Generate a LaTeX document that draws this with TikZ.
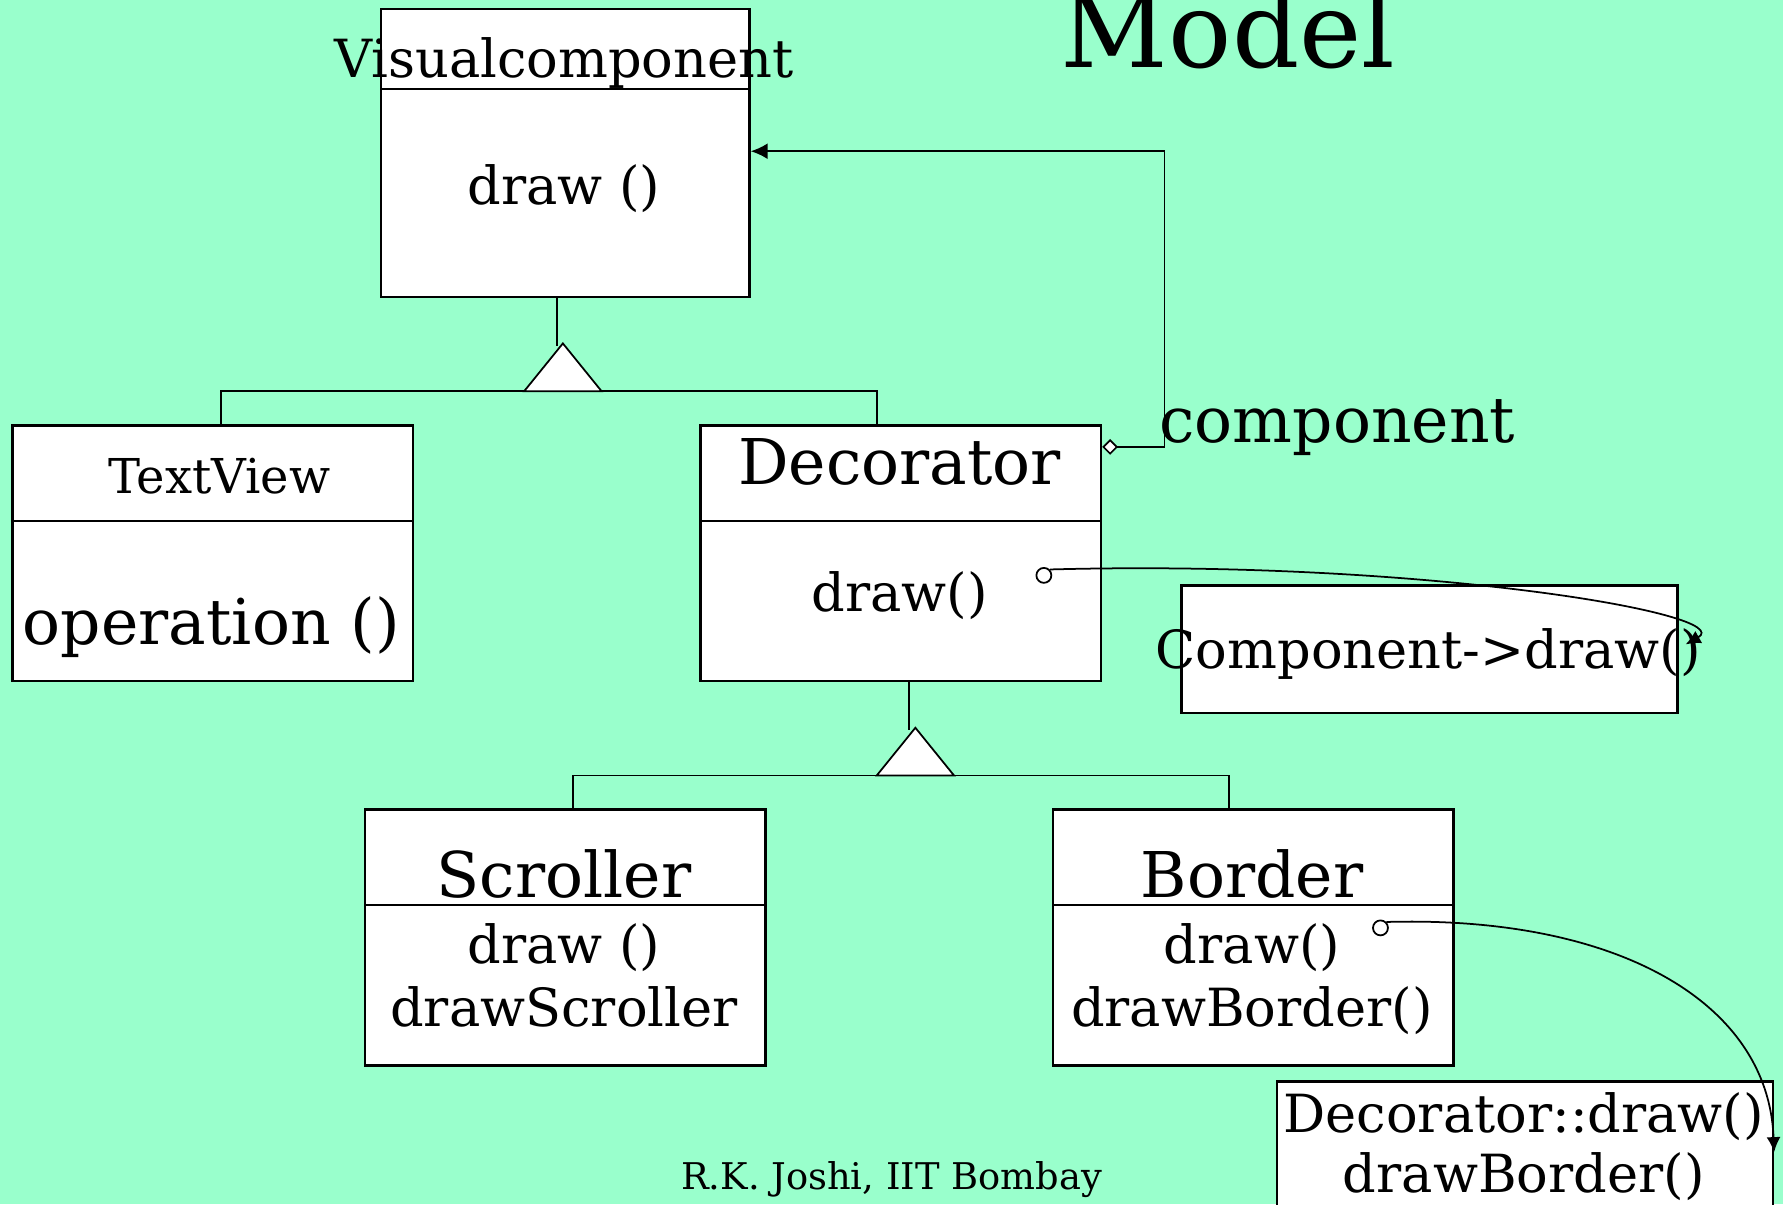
\documentclass[tikz,border=0pt]{standalone}
\usepackage{fontspec}
\setmainfont{DejaVu Serif}
\usetikzlibrary{arrows.meta}

\definecolor{mint}{RGB}{153,255,204}

\tikzset{
  classbox/.style={draw, fill=white, line width=0.7pt, inner sep=0pt, anchor=north west},
  conn/.style={line width=0.5pt},
  gen/.style={draw, fill=white, line width=0.5pt},
  pin/.style={circle, draw, fill=white, line width=0.5pt, inner sep=0pt, minimum size=0.15cm},
  titletext/.style={anchor=base, inner sep=0pt, font=\fontsize{30}{32}\selectfont},
  nametext/.style={anchor=base, inner sep=0pt, font=\fontsize{18}{20}\selectfont},
  methodtext/.style={anchor=base, inner sep=0pt, font=\fontsize{15}{17}\selectfont},
  smalltext/.style={anchor=base, inner sep=0pt, font=\fontsize{13.7}{15}\selectfont},
  credittext/.style={anchor=base, inner sep=0pt, font=\fontsize{10.5}{12}\selectfont},
  tip/.style={-{Latex[length=0.15cm, width=0.14cm]}},
}

\begin{document}
\begin{tikzpicture}[x=0.0114cm, y=-0.0114cm]

    % background
    \fill[mint] (0,0) rectangle (1568,1059);
    \useasboundingbox (0,0) rectangle (1568,1059);

    % Visualcomponent (top class)
    \node[classbox, minimum width=3.694cm, minimum height=0.798cm] (vc) at (334,7) {};
    \node[classbox, minimum width=3.694cm, minimum height=2.086cm] (vcm) at (334,77) {};
    \node[methodtext] (vcname) at (496,68) {Visualcomponent};
    \node[methodtext] (vcdraw) at (496,180) {draw ()};

    % TextView
    \node[classbox, minimum width=4.013cm, minimum height=0.958cm] (tv) at (10,373) {};
    \node[classbox, minimum width=4.013cm, minimum height=1.607cm] (tvm) at (10,457) {};
    \node[smalltext] (tvname) at (193,434) {TextView};
    \node[nametext] (tvop) at (186,567) {operation ()};

    % Decorator
    \node[classbox, minimum width=4.013cm, minimum height=0.958cm] (dec) at (615,373) {};
    \node[classbox, minimum width=4.013cm, minimum height=1.607cm] (decm) at (615,457) {};
    \node[nametext] (decname) at (791,426.5) {Decorator};
    \node[methodtext] (decdraw) at (791,538) {draw()};
    \node[pin] (p1) at (918,506) {};

    % note: Component->draw()
    \node[classbox, minimum width=4.970cm, minimum height=1.277cm] (cd) at (1038,514) {};
    \node[methodtext] (cdtext) at (1256,587.5) {Component->draw()};

    % Scroller
    \node[classbox, minimum width=4.013cm, minimum height=0.958cm] (sc) at (320,711) {};
    \node[classbox, minimum width=4.013cm, minimum height=1.607cm] (scm) at (320,795) {};
    \node[nametext] (scname) at (496,789) {Scroller};
    \node[methodtext] (scdraw) at (496,847) {draw ()};
    \node[methodtext] (scdrawsc) at (496,903) {drawScroller};

    % Border
    \node[classbox, minimum width=4.013cm, minimum height=0.958cm] (bd) at (925,711) {};
    \node[classbox, minimum width=4.013cm, minimum height=1.607cm] (bdm) at (925,795) {};
    \node[nametext] (bdname) at (1101,789) {Border};
    \node[methodtext] (bddraw) at (1101,847) {draw()};
    \node[methodtext] (bddrawbd) at (1101,903) {drawBorder()};
    \node[pin] (p2) at (1214,816) {};

    % note: Decorator::draw() drawBorder()
    \node[classbox, minimum width=4.970cm, minimum height=1.425cm] (dd) at (1122,950) {};
    \node[methodtext] (ddtext) at (1340,995.5) {Decorator::draw()};
    \node[methodtext] (ddtext2) at (1340,1049) {drawBorder()};

    % title, role name and credit
    \node[titletext] (model) at (1080,59) {Model};
    \node[nametext] (role) at (1176,389.5) {component};
    \node[credittext] (credit) at (784,1046.5) {R.K. Joshi, IIT Bombay};

    % generalization: TextView, Decorator -> Visualcomponent
    \coordinate (g1) at (495,302);
    \coordinate (bar1) at (495,344);
    \draw[conn] ([xshift=-0.08cm]vcm.south) -- ++(0,42);
    \draw[conn] ([xshift=0.08cm]tv.north) |- (bar1) -| ([xshift=-0.24cm]dec.north);
    \draw[gen] (g1) -- ++(-34,42) -- ++(68,0) -- cycle;

    % generalization: Scroller, Border -> Decorator
    \coordinate (g2) at (805,640);
    \coordinate (bar2) at (805,682);
    \draw[conn] ([xshift=0.08cm]decm.south) -- ++(0,42);
    \draw[conn] ([xshift=0.08cm]sc.north) |- (bar2) -| ([xshift=-0.24cm]bd.north);
    \draw[gen] (g2) -- ++(-34,42) -- ++(68,0) -- cycle;

    % aggregation: Decorator holds a component
    \coordinate (aggA) at ([yshift=-0.228cm]dec.north east);
    \coordinate (agg) at (1024,133);
    \draw[conn, {Diamond[open, fill=white, length=0.16cm, width=0.16cm]}-{Latex[length=0.17cm, width=0.16cm]}]
      (aggA) -| (agg) -- (agg -| vcm.east);

    % implementation notes
    \draw[conn, tip] (p1.north east)
      .. controls (1250,492) and (1530,540) .. ([xshift=0.07cm, yshift=0.05cm]cd.east);
    \draw[conn, tip] (p2.north east)
      .. controls (1420,805) and (1555,880) .. ([yshift=-0.72cm]dd.north east);

  \end{tikzpicture}
\end{document}
